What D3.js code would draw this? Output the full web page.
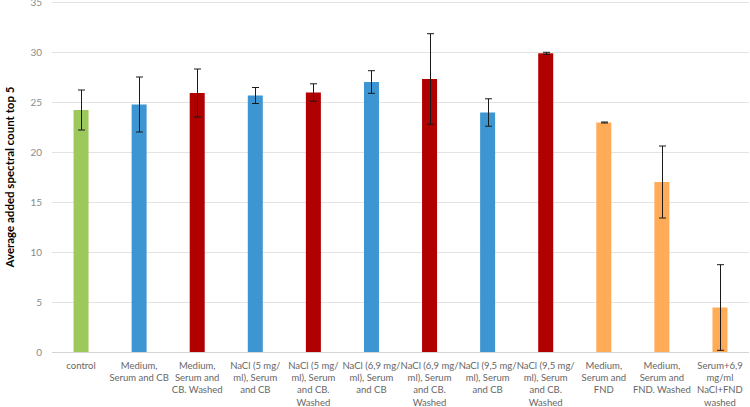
<!DOCTYPE html>
<html>
<head>
<meta charset="utf-8">
<script src="https://cdn.jsdelivr.net/npm/d3@7"></script>
<style>
html,body{margin:0;padding:0;background:#fff;}
svg{display:block;}
</style>
</head>
<body>
<svg id="chart" width="750" height="407"></svg>
<script>
const categories = [
  "control",
  "Medium,\nSerum and CB",
  "Medium,\nSerum and\nCB. Washed",
  "NaCl (5 mg/\nml), Serum\nand CB",
  "NaCl (5 mg/\nml), Serum\nand CB.\nWashed",
  "NaCl (6,9 mg/\nml), Serum\nand CB",
  "NaCl (6,9 mg/\nml), Serum\nand CB.\nWashed",
  "NaCl (9,5 mg/\nml), Serum\nand CB",
  "NaCl (9,5 mg/\nml), Serum\nand CB.\nWashed",
  "Medium,\nSerum and\nFND",
  "Medium,\nSerum and\nFND. Washed",
  "Serum+6,9\nmg/ml\nNaCl+FND\nwashed"
];
const values = [24.2, 24.75, 25.9, 25.65, 25.95, 27.0, 27.3, 23.95, 29.87, 22.95, 17.0, 4.45];
const errors = [2.0, 2.75, 2.4, 0.8, 0.87, 1.13, 4.53, 1.37, 0.1, 0.05, 3.6, 4.28];
const groups = ["control","CB","CBW","CB","CBW","CB","CBW","CB","CBW","FND","FND","FND"];
const groupColors = {control:"#9DC85C", CB:"#3D96D2", CBW:"#B00000", FND:"#FFAB57"};
const yTicks = [0,5,10,15,20,25,30,35];
const yTitle = "Average added spectral count top 5";

const FONT = "Lato, 'Open Sans', sans-serif";
const svg = d3.select("#chart");
const x = d3.scaleBand().domain(d3.range(categories.length)).range([52, 749]).paddingInner(0).paddingOuter(0);
const y = d3.scaleLinear().domain([0, 35]).range([352, 2]);

// gridlines
svg.append("g").selectAll("line").data(yTicks).join("line")
  .attr("x1", 52).attr("x2", 749)
  .attr("y1", d => Math.round(y(d)) + 0.5).attr("y2", d => Math.round(y(d)) + 0.5)
  .attr("stroke", d => d === 0 ? "#d4d4d4" : "#e3e3e3").attr("stroke-width", 1);

// y axis labels
const yAxis = d3.axisLeft(y).tickValues(yTicks).tickSize(0).tickPadding(0);
const gy = svg.append("g").attr("transform", "translate(42,0)").call(yAxis);
gy.select(".domain").remove();
gy.selectAll("text").attr("fill", "#8a8a8a").attr("font-family", FONT).attr("font-size", "10px");

// bars
const bw = 15;
svg.append("g").selectAll("rect").data(values).join("rect")
  .attr("x", (d, i) => x(i) + x.bandwidth() / 2 - bw / 2)
  .attr("width", bw)
  .attr("y", d => y(d))
  .attr("height", d => y(0) - y(d))
  .attr("fill", (d, i) => groupColors[groups[i]]);

// error bars
const eg = svg.append("g").attr("stroke", "#1a1a1a").attr("stroke-width", 1);
values.forEach((v, i) => {
  const cx = Math.round(x(i) + x.bandwidth() / 2) + 0.5;
  const yt = y(v + errors[i]), yb = y(Math.max(0, v - errors[i]));
  eg.append("line").attr("x1", cx).attr("x2", cx).attr("y1", yt).attr("y2", yb);
  eg.append("line").attr("x1", cx - 3.5).attr("x2", cx + 3.5).attr("y1", yt).attr("y2", yt);
  eg.append("line").attr("x1", cx - 3.5).attr("x2", cx + 3.5).attr("y1", yb).attr("y2", yb);
});

// x labels
const xl = svg.append("g").attr("font-family", FONT).attr("font-size", "9.5px").attr("fill", "#666");
categories.forEach((c, i) => {
  const t = xl.append("text").attr("text-anchor", "middle")
    .attr("x", x(i) + x.bandwidth() / 2).attr("y", 369);
  c.split("\n").forEach((ln, j) => {
    t.append("tspan").attr("x", x(i) + x.bandwidth() / 2).attr("dy", j === 0 ? 0 : 12.2).text(ln);
  });
});

// y title
svg.append("text")
  .attr("transform", `translate(14,${y(17.5)}) rotate(-90)`)
  .attr("text-anchor", "middle")
  .attr("font-family", FONT).attr("font-weight", "bold")
  .attr("font-size", "11.5px").attr("fill", "#000")
  .text(yTitle);
</script>
</body>
</html>
